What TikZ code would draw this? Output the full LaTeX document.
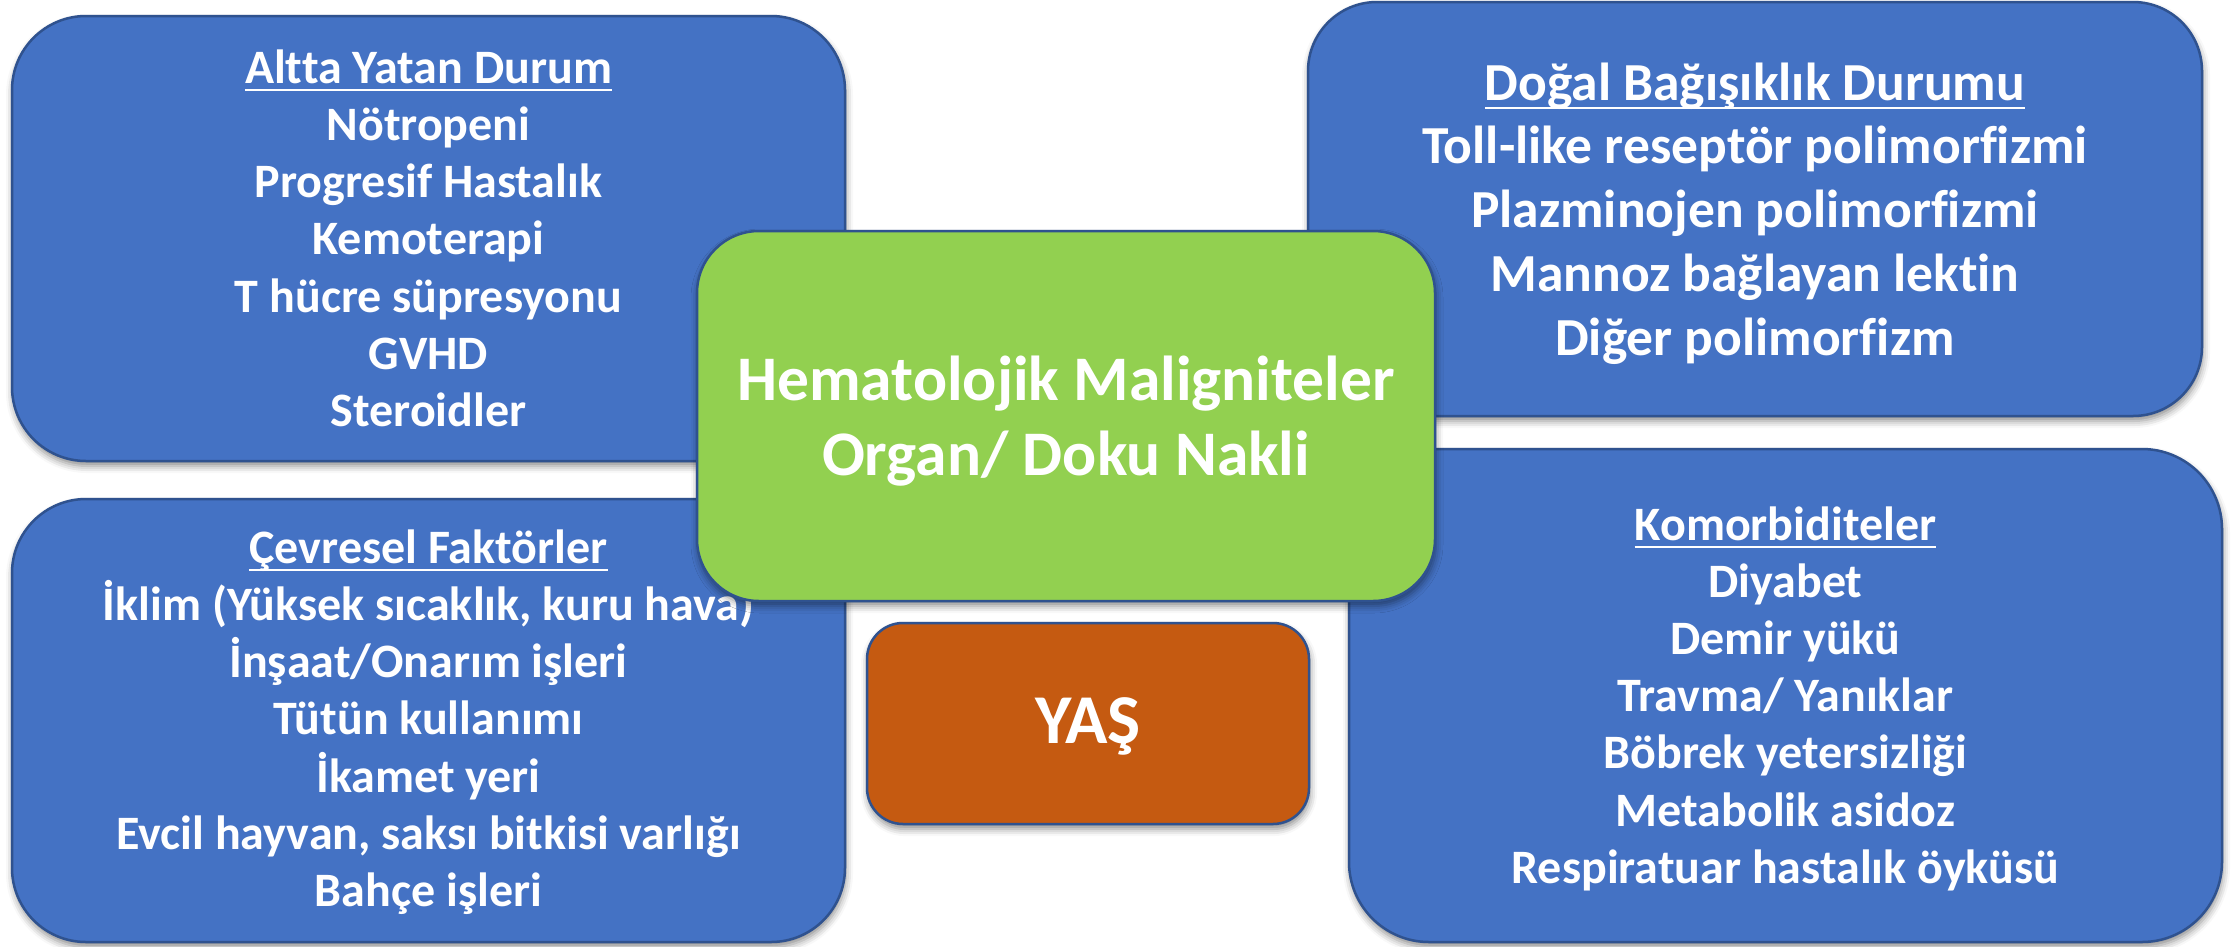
\documentclass[tikz,border=0pt]{standalone}
\usepackage{fontspec}
\setmainfont{Carlito}[Ligatures={NoCommon}]
\usetikzlibrary{shadows.blur}
\definecolor{boxblue}{HTML}{4472C4}
\definecolor{boxline}{HTML}{2F528F}
\definecolor{boxgreen}{HTML}{92D050}
\definecolor{boxorange}{HTML}{C55A11}
\begin{document}
\begin{tikzpicture}[x=1pt,y=-1pt,
  card/.style={draw=boxline, line width=2.5pt, rounded corners=#1, inner sep=0pt, outer sep=0pt,
    blur shadow={shadow xshift=1pt, shadow yshift=-5pt, shadow blur radius=7pt, shadow opacity=45}},
  txtm/.style={text=white, inner sep=0pt, anchor=base, font=\bfseries\fontsize{48}{56}\selectfont},
  txtl/.style={text=white, inner sep=0pt, anchor=base, font=\bfseries\fontsize{53.5}{62}\selectfont},
  txtxl/.style={text=white, inner sep=0pt, anchor=base, font=\bfseries\fontsize{63.5}{76}\selectfont},
  txtage/.style={text=white, inner sep=0pt, anchor=base, font=\bfseries\fontsize{70}{80}\selectfont},
  uline/.style={draw=white, line width=2.5pt}
]
\useasboundingbox (0,0) rectangle (2236,946);

% blue boxes
\node[card=74, fill=boxblue, minimum width=833pt, minimum height=445pt] (tl) at (428.5,238.5) {};
\node[card=69, fill=boxblue, minimum width=894pt, minimum height=414pt] (tr) at (1755,209) {};
\node[card=74, fill=boxblue, minimum width=833pt, minimum height=443pt] (bl) at (428.5,720.5) {};
\node[card=80, fill=boxblue, minimum width=873pt, minimum height=493pt] (br) at (1785.5,695.5) {};

% top-left text
\node[txtm] (tlh) at (428.5,83) {Altta Yatan Durum};
\draw[uline] ([yshift=-7pt]tlh.base west) -- ([yshift=-7pt]tlh.base east);
\foreach \t [count=\i from 1] in {Nötropeni, Progresif Hastalık, Kemoterapi, T hücre süpresyonu, GVHD, Steroidler}
  \node[txtm] (tl\i) at (428.5,{83+57.3*\i}) {\t};

% top-right text
\node[txtl] (trh) at (1755,100) {Doğal Bağışıklık Durumu};
\draw[uline] ([yshift=-8pt]trh.base west) -- ([yshift=-8pt]trh.base east);
\foreach \t [count=\i from 1] in {Toll-like reseptör polimorfizmi, Plazminojen polimorfizmi, Mannoz bağlayan lektin, Diğer polimorfizm}
  \node[txtl] (tr\i) at (1755,{100+63.75*\i}) {\t};

% bottom-left text
\node[txtm] (blh) at (428.5,563) {Çevresel Faktörler};
\draw[uline] ([yshift=-7pt]blh.base west) -- ([yshift=-7pt]blh.base east);
\foreach \t [count=\i from 1] in {{İklim (Yüksek sıcaklık, kuru hava)}, İnşaat/Onarım işleri, Tütün kullanımı, İkamet yeri, {Evcil hayvan, saksı bitkisi varlığı}, Bahçe işleri}
  \node[txtm] (bl\i) at (428.5,{563+57.3*\i}) {\t};

% bottom-right text
\node[txtm] (brh) at (1785.5,540) {Komorbiditeler};
\draw[uline] ([yshift=-7pt]brh.base west) -- ([yshift=-7pt]brh.base east);
\foreach \t [count=\i from 1] in {Diyabet, Demir yükü, Travma/ Yanıklar, Böbrek yetersizliği, Metabolik asidoz, Respiratuar hastalık öyküsü}
  \node[txtm] (br\i) at (1785.5,{540+57.2*\i}) {\t};

% centre box
\node[card=62, fill=boxgreen, minimum width=738pt, minimum height=370pt] (gc) at (1066,416) {};
\node[txtxl] (g1) at (1066,400) {Hematolojik Maligniteler};
\node[txtxl] (g2) at (1066,475) {Organ/ Doku Nakli};

% age box
\node[card=36, fill=boxorange, minimum width=442pt, minimum height=201pt] (age) at (1088,723.5) {};
\node[txtage] (aget) at (1088,743) {YAŞ};
\end{tikzpicture}
\end{document}
